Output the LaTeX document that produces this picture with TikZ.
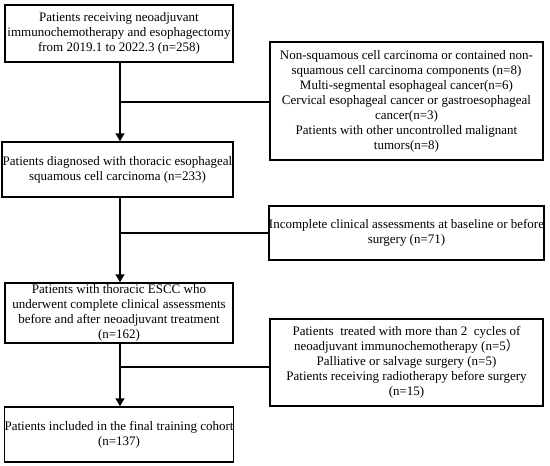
\documentclass[tikz,border=0pt]{standalone}
\usepackage{fontspec}
\setmainfont{Liberation Serif}
\newfontfamily\cjk{Noto Sans CJK SC}
\usetikzlibrary{arrows.meta}
\begin{document}
\begin{tikzpicture}[x=1pt,y=-1pt,
  box/.style={draw=black,line width=1.5pt,align=center,inner sep=0pt,
    font=\fontsize{13}{15}\selectfont},
  link/.style={line width=1.5pt},
  arr/.style={line width=1.5pt,-{Triangle[length=8pt,width=9pt]}}]
\useasboundingbox (0,0) rectangle (550,466);
\node[box,minimum width=228,minimum height=57] (b1) at (119,33.5)
  {Patients receiving neoadjuvant\\immunochemotherapy and esophagectomy\\from 2019.1 to 2022.3 (n=258)};
\node[box,minimum width=231,minimum height=55] (b2) at (117.5,169.5)
  {Patients diagnosed with thoracic esophageal\\squamous cell carcinoma (n=233)};
\node[box,minimum width=228,minimum height=60] (b3) at (119,313)
  {Patients with thoracic ESCC who\\underwent complete clinical assessments\\before and after neoadjuvant treatment\\(n=162)};
\node[box,minimum width=228,minimum height=55] (b4) at (119,434.5)
  {Patients included in the final training cohort\\(n=137)};
\node[box,minimum width=273,minimum height=118] (r1) at (406.5,101)
  {Non-squamous cell carcinoma or contained non-\\squamous cell carcinoma components (n=8)\\Multi-segmental esophageal cancer(n=6)\\Cervical esophageal cancer or gastroesophageal\\cancer(n=3)\\Patients with other uncontrolled malignant\\tumors(n=8)};
\node[box,minimum width=273,minimum height=54] (r2) at (406.5,233)
  {Incomplete clinical assessments at baseline or before\\surgery (n=71)};
\node[box,minimum width=273,minimum height=87] (r3) at (406.5,362.5)
  {Patients\ \ treated with more than 2\ \ cycles of\\neoadjuvant immunochemotherapy (n=5{\cjk ）}\\Palliative or salvage surgery (n=5)\\Patients receiving radiotherapy before surgery\\(n=15)};
\coordinate (s1) at (120,62);
\coordinate (s2) at (120,197);
\coordinate (s3) at (120,343);
\coordinate (j1) at (120,102);
\coordinate (j2) at (120,233);
\coordinate (j3) at (120,367);
\draw[arr] (s1) -- (s1 |- b2.north);
\draw[arr] (s2) -- (s2 |- b3.north);
\draw[arr] (s3) -- (s3 |- b4.north);
\draw[link] (j1) -- (j1 -| r1.west);
\draw[link] (j2) -- (j2 -| r2.west);
\draw[link] (j3) -- (j3 -| r3.west);
\end{tikzpicture}
\end{document}
